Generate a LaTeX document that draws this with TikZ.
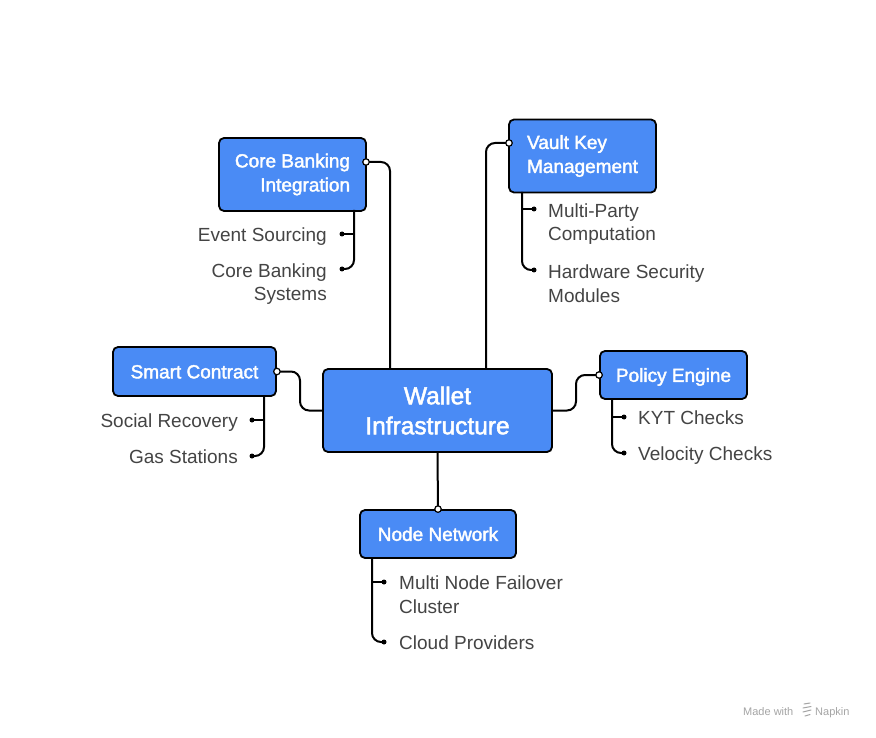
\documentclass[tikz,border=0pt]{standalone}
\usepackage{fontspec}
\setmainfont{Liberation Sans}
\newfontfamily\boxfont[FakeBold=2]{Liberation Sans}
\usetikzlibrary{calc}
\definecolor{boxblue}{RGB}{74,139,245}
\definecolor{labelgray}{RGB}{68,68,68}
\definecolor{markgray}{RGB}{165,165,165}
\begin{document}
\begin{tikzpicture}[x=1pt,y=-1pt,
 box/.style={draw=black, line width=1.8pt, fill=boxblue, rounded corners=5pt, text=white, inner sep=0pt, font=\boxfont\fontsize{19}{24}\selectfont},
 onebox/.style={box, text height=13.7pt, text depth=0pt},
 leaf/.style={text=labelgray, inner sep=0pt, font=\fontsize{19}{24}\selectfont},
 link/.style={line width=2pt, rounded corners=9pt},
 jdot/.style={circle, draw=black, fill=white, line width=1.2pt, inner sep=0pt, minimum size=6.5pt},
 ldot/.style={circle, fill=black, inner sep=0pt, minimum size=5pt},
 wmark/.style={text=markgray, inner sep=0pt, font=\fontsize{11}{13}\selectfont}
]
\fill[white] (0,0) rectangle (876,738);
\useasboundingbox (0,0) rectangle (876,738);

% main boxes
\node[box, minimum width=229pt, minimum height=83pt, align=center,
      font=\boxfont\fontsize{24.5}{30}\selectfont] (wal) at (437.5,410.5) {Wallet\\Infrastructure};
\node[box, minimum width=147pt, minimum height=73pt, align=right] (cb) at (292.5,174.5) {Core Banking\\Integration};
\node[box, minimum width=147pt, minimum height=73pt, align=left] (vk) at (582.5,156) {Vault Key\\Management};
\node[onebox, minimum width=163pt, minimum height=49pt] (sc) at (194.5,371.5) {Smart Contract};
\node[onebox, minimum width=147pt, minimum height=48pt] (pe) at (673.5,375) {Policy Engine};
\node[onebox, minimum width=156pt, minimum height=48pt] (nn) at (438,534) {Node Network};

% attachment points
\coordinate (cbp) at (366,162);
\coordinate (cbw) at (390,369);
\coordinate (vkp) at (509,143);
\coordinate (vkw) at (486,369);
\coordinate (scm) at (300,391);
\coordinate (pem) at (576,392);

% leaf dots
\node[ldot] (d1) at (342,234) {};
\node[ldot] (d2) at (342,269) {};
\node[ldot] (d3) at (534,209) {};
\node[ldot] (d4) at (534,270) {};
\node[ldot] (d5) at (252,420) {};
\node[ldot] (d6) at (252,456) {};
\node[ldot] (d7) at (624,417) {};
\node[ldot] (d8) at (624,453) {};
\node[ldot] (d9) at (384,582) {};
\node[ldot] (d10) at (384,642) {};

% leaf tops
\coordinate (t1) at (354,210);
\coordinate (t2) at (522,192);
\coordinate (t3) at (264,396);
\coordinate (t4) at (612,399);
\coordinate (t5) at (372,558);

% main connectors
\draw[link] (cbp) -| (cbw);
\draw[link] (vkp) -| (vkw);
\draw[link] (sc.east) -| (scm) |- (wal.west);
\draw[link] (wal.east) -| (pem) |- (pe.west);
\draw[link] (wal.south) -- (nn.north);

% leaf connectors: trunk with rounded end, straight side branch
\draw[link] (t1) |- (d2.center);
\draw[link] (t1 |- d1.center) -- (d1.center);
\draw[link] (t2) |- (d4.center);
\draw[link] (t2 |- d3.center) -- (d3.center);
\draw[link] (t3) |- (d6.center);
\draw[link] (t3 |- d5.center) -- (d5.center);
\draw[link] (t4) |- (d8.center);
\draw[link] (t4 |- d7.center) -- (d7.center);
\draw[link] (t5) |- (d10.center);
\draw[link] (t5 |- d9.center) -- (d9.center);

% junction dots
\node[jdot] (j1) at (cbp) {};
\node[jdot] (j2) at (vkp) {};
\node[jdot] (j3) at (sc.east) {};
\node[jdot] (j4) at (pe.west) {};
\node[jdot] (j5) at (nn.north) {};

% leaf labels (multi-line: base = last line)
\node[leaf, anchor=base east] (l1) at (327,241.5) {Event Sourcing};
\node[leaf, anchor=base east, align=right] (l2) at (327,301) {Core Banking\\Systems};
\node[leaf, anchor=base west, align=left] (l3) at (548,241) {Multi-Party\\Computation};
\node[leaf, anchor=base west, align=left] (l4) at (548,302) {Hardware Security\\Modules};
\node[leaf, anchor=base east] (l5) at (238,427) {Social Recovery};
\node[leaf, anchor=base east] (l6) at (238,463) {Gas Stations};
\node[leaf, anchor=base west] (l7) at (638,424) {KYT Checks};
\node[leaf, anchor=base west] (l8) at (638,460) {Velocity Checks};
\node[leaf, anchor=base west, align=left] (l9) at (399,613) {Multi Node Failover\\Cluster};
\node[leaf, anchor=base west] (l10) at (399,649) {Cloud Providers};

% watermark
\node[wmark, anchor=base west] (mw) at (743,715) {Made with};
\node[wmark, anchor=base west] (nk) at (815,715) {Napkin};
\draw[markgray, line width=1pt, line cap=round]
  (804,704) -- (810,703) (803,708) -- (811,706.5) (803,712) -- (811,710) (805,716) -- (810,714.5);
\end{tikzpicture}
\end{document}
